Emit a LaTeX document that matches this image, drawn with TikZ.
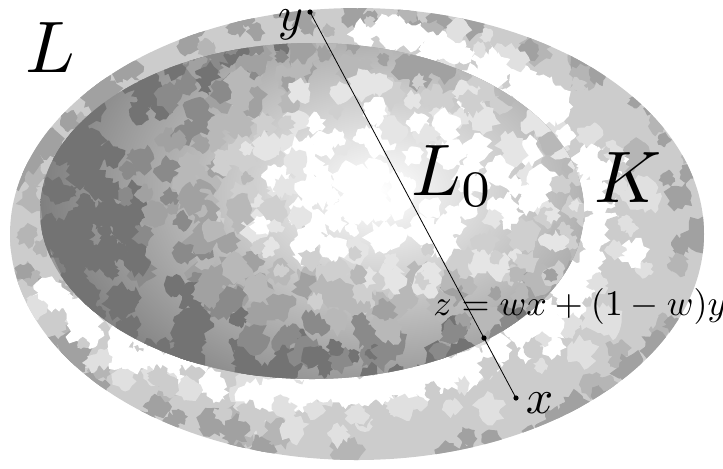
\documentclass[tikz,border=0pt]{standalone}
\begin{document}
\begin{tikzpicture}[x=0.5pt,y=-0.5pt]
\tikzset{
  bigmath/.style={scale=3.65, inner sep=0pt},
  midmath/.style={scale=2.4, inner sep=0pt},
  smallmath/.style={scale=1.8, inner sep=0pt},
  dot/.style={circle,fill=black,inner sep=0pt,minimum size=2.6pt},
}
\newcommand\myblob[4]{% color, x, y, radius (px)
  \fill[#1] plot[domain=0:340, samples=18] ({#2+#4*(0.65+0.7*rnd)*cos(\x)},{#3+#4*(0.65+0.7*rnd)*sin(\x)}) -- cycle;
}
\useasboundingbox (0,0) rectangle (723,468);
\pgfmathsetseed{11}
% ---------- outer body K ----------
\fill[black!20!white] (357,234) ellipse [x radius=173.5pt, y radius=113pt];
\begin{scope}
  \clip (357,234) ellipse [x radius=173.5pt, y radius=113pt];
  \foreach \i in {1,...,560}{
    \pgfmathsetmacro\bx{10+695*rnd}
    \pgfmathsetmacro\by{8+452*rnd}
    \pgfmathsetmacro\br{6+10*rnd}
    \pgfmathsetmacro\rq{sqrt(((\bx-357)/347)^2+((\by-234)/226)^2)}
    \pgfmathsetmacro\lv{max(0,46*(\rq-0.76)/0.24)+26*(rnd-0.5)}
    \pgfmathtruncatemacro\gg{\lv<3 ? 0 : (\lv<15 ? 12 : (\lv<27 ? 20 : (\lv<37 ? 29 : 37)))}
    \myblob{black!\gg!white}{\bx}{\by}{\br}
  }
  % light band round the inner body
  \foreach \i in {1,...,90}{
    \pgfmathsetmacro\a{-80+240*rnd}
    \pgfmathsetmacro\sc{1.02+0.09*rnd}
    \pgfmathsetmacro\bx{312+\sc*272*cos(\a)}
    \pgfmathsetmacro\by{211+(\sc+0.03)*168*sin(\a)}
    \pgfmathsetmacro\br{8+10*rnd}
    \myblob{white}{\bx}{\by}{\br}
  }
  \foreach \i in {1,...,45}{
    \pgfmathsetmacro\a{-85+260*rnd}
    \pgfmathsetmacro\sc{1.10+0.1*rnd}
    \pgfmathsetmacro\bx{312+\sc*272*cos(\a)}
    \pgfmathsetmacro\by{211+(\sc+0.04)*168*sin(\a)}
    \pgfmathsetmacro\br{5+7*rnd}
    \pgfmathsetmacro\rr{rnd}
    \pgfmathtruncatemacro\gg{\rr<0.6 ? 12 : 20}
    \myblob{black!\gg!white}{\bx}{\by}{\br}
  }
\end{scope}
% ---------- inner body L0 ----------
\begin{scope}
  \clip (312,211) ellipse [x radius=136pt, y radius=84pt];
  \fill[black!40!white] (40,43) rectangle (585,380);
  \shade[inner color=white, outer color=black!50!white] (380,190) ellipse [x radius=170pt, y radius=120pt];
  \foreach \i in {1,...,680}{
    \pgfmathsetmacro\bx{40+545*rnd}
    \pgfmathsetmacro\by{43+337*rnd}
    \pgfmathsetmacro\br{6+9*rnd}
    \pgfmathsetmacro\ddx{\bx<380 ? (\bx-380)/260 : (\bx-380)/400}
    \pgfmathsetmacro\ddy{\by<190 ? (\by-190)/190 : (\by-190)/170}
    \pgfmathsetmacro\dd{sqrt(\ddx*\ddx+\ddy*\ddy)}
    \pgfmathsetmacro\lv{65*(\dd-0.32)/0.75+24*(rnd-0.5)}
    \pgfmathtruncatemacro\gg{\lv<5 ? 0 : (\lv<14 ? 10 : (\lv<24 ? 19 : (\lv<34 ? 28 : (\lv<44 ? 37 : (\lv<53 ? 46 : 55)))))}
    \myblob{black!\gg!white}{\bx}{\by}{\br}
  }
\end{scope}
% ---------- segment ----------
\node[dot] (py) at (310,12) {};
\node[dot] (px) at (516,398) {};
\node[dot] (pz) at (484,338) {};
\draw[line width=0.4pt] (py.center) -- (px.center);
% ---------- labels ----------
\node[bigmath] (lL) at (50,48) {$L$};
\node[bigmath] (lL0) at (453,176) {$L_0$};
\node[bigmath] (lK) at (628,178) {$K$};
\node[midmath, anchor=base east] (ly) at (304,30) {$y$};
\node[midmath, anchor=base west] (lx) at (525,413) {$x$};
\node[smallmath, anchor=base] (lz) at (580,315) {$z=wx+(1-w)y$};
\end{tikzpicture}
\end{document}
